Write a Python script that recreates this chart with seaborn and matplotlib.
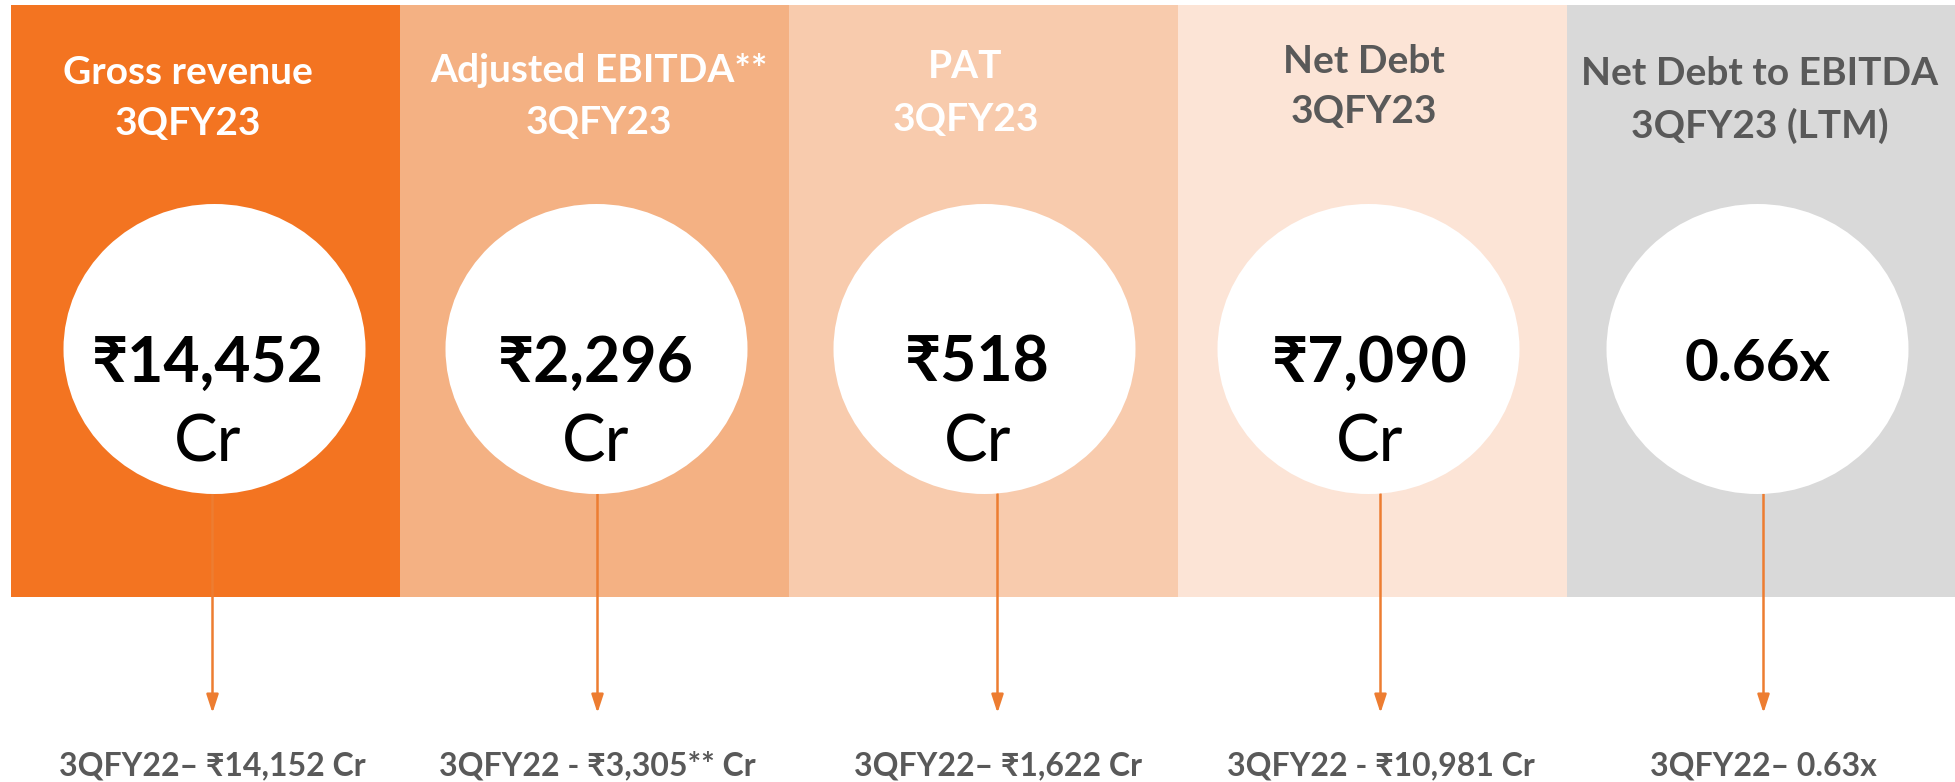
import numpy as np
import pandas as pd
import matplotlib.pyplot as plt
import seaborn as sns
from matplotlib.patches import Ellipse

# Chart content
metrics = ["Gross revenue", "Adjusted EBITDA**", "PAT", "Net Debt", "Net Debt to EBITDA"]
periods = ["3QFY23", "3QFY23", "3QFY23", "3QFY23", "3QFY23 (LTM)"]
current_values = ["₹14,452", "₹2,296", "₹518", "₹7,090", "0.66x"]
current_units = ["Cr", "Cr", "Cr", "Cr", ""]
previous_values = ["3QFY22– ₹14,152 Cr", "3QFY22 - ₹3,305** Cr", "3QFY22– ₹1,622 Cr",
                   "3QFY22 - ₹10,981 Cr", "3QFY22– 0.63x"]

# Styles
panel_colors = ["#F37421", "#F4B183", "#F8CBAD", "#FCE4D6", "#D9D9D9"]
title_colors = ["white", "white", "white", "#595959", "#595959"]
ARROW_COLOR = "#ED7D31"
GREY = "#595959"

# Layout (pixels, y measured from a 5 px top margin)
W, H = 1956, 782
LEFT = 11
PANEL_PX = (W - LEFT) / len(metrics)
PANEL_HEIGHT = 592
title_dx = [-18, 4, -18, -9, -2]
title_base1 = [79, 77, 73, 68, 80]
title_base2 = [130, 129, 126, 118, 133]
circle_dx = [9, 2, 1, -4, -4]
value_dx = [2, 1, -6, -3, -4]
arrow_dx = [7, 3, 14, 8, 2]

sns.set_style("white")
FONT = ["Lato", "Noto Sans", "DejaVu Sans"]
plt.rcParams["font.family"] = FONT


def ux(i, dx):
    return i + dx / PANEL_PX


fig = plt.figure(figsize=(W / 100, H / 100), dpi=100)
ax = fig.add_axes([LEFT / W, 0, 1 - LEFT / W, 1])

# coloured panels
df = pd.DataFrame({"metric": metrics, "height": [PANEL_HEIGHT] * len(metrics)})
sns.barplot(data=df, x="metric", y="height", hue="metric", palette=panel_colors,
            width=1.0, saturation=1, legend=False, errorbar=None, linewidth=0, ax=ax)
ax.set_xlim(-0.5, len(metrics) - 0.5)
ax.set_ylim(H - 5, -5)
ax.set_axis_off()

for i in range(len(metrics)):
    # titles
    ax.text(ux(i, title_dx[i]), title_base1[i], metrics[i], ha="center", va="baseline",
            fontsize=28, fontweight="bold", color=title_colors[i], family=FONT)
    ax.text(ux(i, title_dx[i]), title_base2[i], periods[i], ha="center", va="baseline",
            fontsize=28, fontweight="bold", color=title_colors[i], family=FONT)

    # white circle
    ax.add_patch(Ellipse((ux(i, circle_dx[i]), 344), width=302 / PANEL_PX, height=290,
                         facecolor="white", edgecolor="none", zorder=3))

    # current value
    if current_units[i]:
        ax.text(ux(i, value_dx[i]), 377, current_values[i], ha="center", va="baseline",
                fontsize=45, fontweight="bold", color="black", family=FONT, zorder=4)
        ax.text(ux(i, value_dx[i]), 457, current_units[i], ha="center", va="baseline",
                fontsize=47, fontweight="normal", color="black", family=FONT, zorder=4)
    else:
        ax.text(ux(i, value_dx[i]), 376, current_values[i], ha="center", va="baseline",
                fontsize=42, fontweight="bold", color="black", family=FONT, zorder=4)

    # arrow down to previous year
    xa = ux(i, arrow_dx[i])
    ax.annotate("", xy=(xa, 708), xytext=(xa, 489),
                arrowprops=dict(arrowstyle="-|>,head_length=0.55,head_width=0.18",
                                mutation_scale=20, color=ARROW_COLOR, lw=1.8,
                                shrinkA=0, shrinkB=0), zorder=2)

    ax.text(xa, 770, previous_values[i], ha="center", va="baseline",
            fontsize=23, fontweight="bold", color=GREY, family=FONT)

fig.savefig("out.png", dpi=100)
